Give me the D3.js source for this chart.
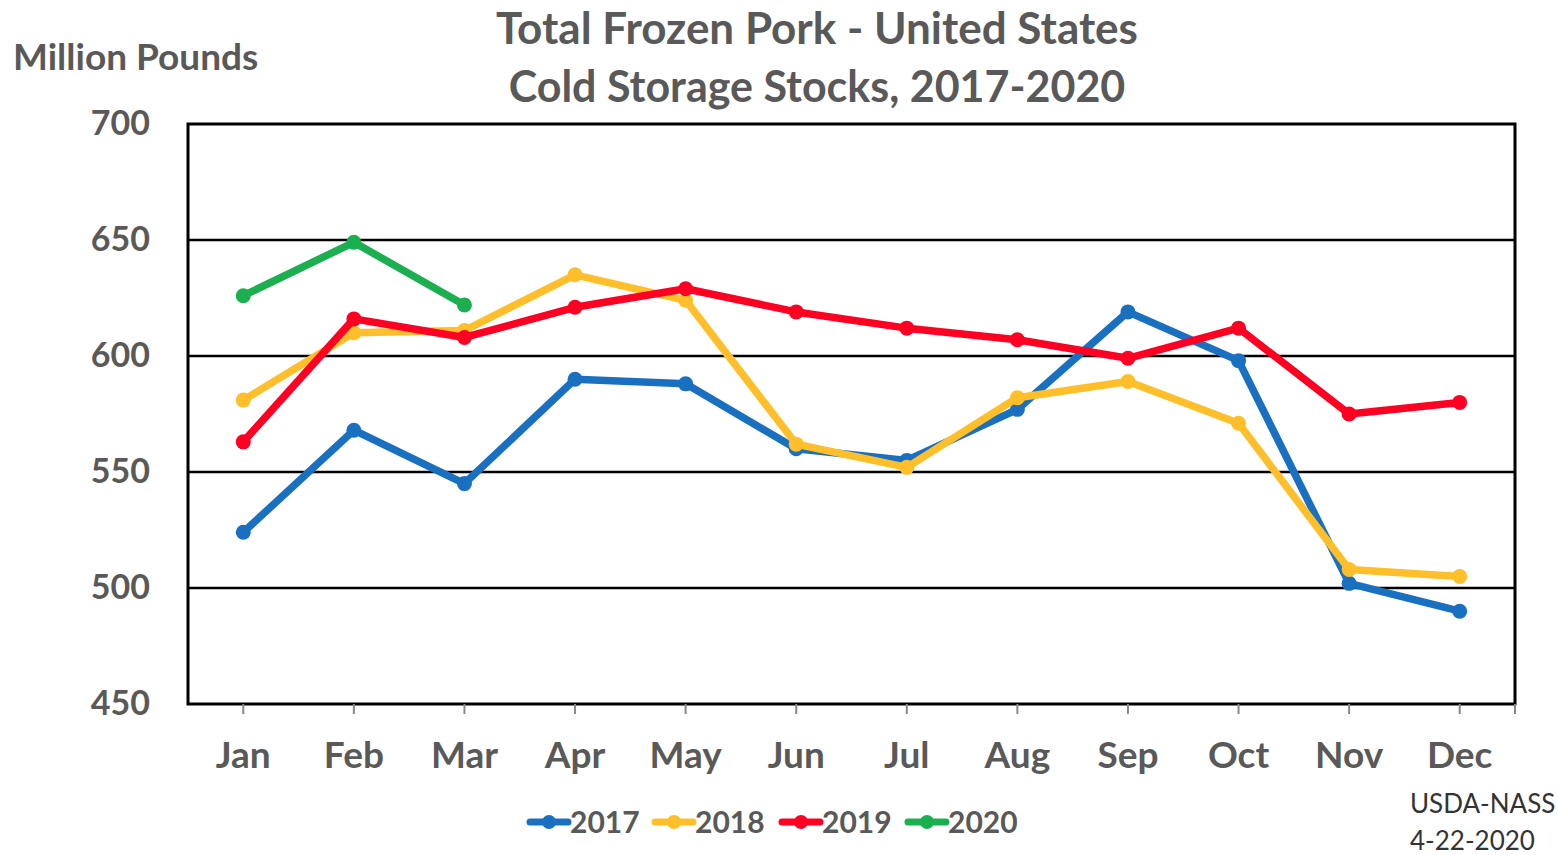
<!DOCTYPE html>
<html><head><meta charset="utf-8">
<script src="https://cdn.jsdelivr.net/npm/d3@7"></script>
<style>body{margin:0;background:#fff}svg{display:block}</style>
</head><body><svg id="c" width="1558" height="855"></svg>
<script>
const months = ["Jan","Feb","Mar","Apr","May","Jun","Jul","Aug","Sep","Oct","Nov","Dec"];
const yTicks = [450,500,550,600,650,700];
const s2017 = [524,568,545,590,588,560,555,577,619,598,502,490];
const s2018 = [581,610,611,635,624,562,552,582,589,571,508,505];
const s2019 = [563,616,608,621,629,619,612,607,599,612,575,580];
const s2020 = [626,649,622];
const seriesNames = ["2017","2018","2019","2020"];
const seriesColors = ["#1a70c0","#ffbf2b","#ff0022","#1caf50"];
const seriesData = [s2017,s2018,s2019,s2020];

const svg = d3.select("#c");
const font = "Lato, 'Open Sans', sans-serif";
const grey = "#595959";
const L=188,R=1515,T=124,B=704;
const x = d3.scaleBand().domain(months).range([L,R]).padding(0);
const xc = m => x(m)+x.bandwidth()/2;
const y = d3.scaleLinear().domain([450,700]).range([B,T]);

// gridlines
svg.append("g").selectAll("line").data(yTicks.filter(v=>v>450&&v<700)).join("line")
  .attr("x1",L).attr("x2",R).attr("y1",d=>y(d)).attr("y2",d=>y(d))
  .attr("stroke","#000").attr("stroke-width",2.5);
// frame
svg.append("rect").attr("x",L).attr("y",T).attr("width",R-L).attr("height",B-T)
  .attr("fill","none").attr("stroke","#000").attr("stroke-width",3);

// y axis labels
const ya = svg.append("g").attr("transform",`translate(${L},0)`)
  .call(d3.axisLeft(y).tickValues(yTicks).tickSize(0).tickPadding(38));
ya.select(".domain").remove();
ya.selectAll("text").attr("font-family",font).attr("font-weight","bold").attr("font-size",34).attr("fill",grey);

// x axis
const xa = svg.append("g").attr("transform",`translate(0,${B})`)
  .call(d3.axisBottom(x).tickSize(10).tickPadding(28));
xa.select(".domain").remove();
xa.selectAll("line").attr("stroke","#888").attr("stroke-width",2);
xa.selectAll("text").attr("font-family",font).attr("font-weight","bold").attr("font-size",37).attr("fill",grey);
svg.append("line").attr("x1",R).attr("x2",R).attr("y1",B).attr("y2",B+10).attr("stroke","#888").attr("stroke-width",2);

// series
const line = d3.line().x((d,i)=>xc(months[i])).y(d=>y(d));
seriesData.forEach((data,k)=>{
  const g = svg.append("g");
  g.append("path").datum(data).attr("d",line).attr("fill","none")
    .attr("stroke",seriesColors[k]).attr("stroke-width",7.5).attr("stroke-linejoin","round");
  g.selectAll("circle").data(data).join("circle")
    .attr("cx",(d,i)=>xc(months[i])).attr("cy",d=>y(d)).attr("r",7.5).attr("fill",seriesColors[k]);
});

// titles
const tl = svg.append("g").attr("font-family",font).attr("font-weight","bold").attr("fill",grey).attr("text-anchor","middle");
tl.append("text").attr("x",817).attr("y",44).attr("font-size",44).text("Total Frozen Pork - United States");
tl.append("text").attr("x",817).attr("y",102).attr("font-size",43).text("Cold Storage Stocks, 2017-2020");
svg.append("text").attr("x",13).attr("y",70).attr("font-family",font).attr("font-weight","bold")
  .attr("font-size",37).attr("fill",grey).text("Million Pounds");

// legend
const lg = svg.append("g");
const lx = [530,655,782,908];
seriesNames.forEach((n,k)=>{
  const g = lg.append("g").attr("transform",`translate(${lx[k]},822)`);
  g.append("line").attr("x1",0).attr("x2",38).attr("stroke",seriesColors[k]).attr("stroke-width",7).attr("stroke-linecap","round");
  g.append("circle").attr("cx",19).attr("r",7).attr("fill",seriesColors[k]);
  g.append("text").attr("x",40).attr("y",11).attr("font-family",font).attr("font-weight","bold")
    .attr("font-size",30).attr("fill",grey).text(n);
});

// source
const src = svg.append("g").attr("font-family",font).attr("font-size",26).attr("fill","#333");
src.append("text").attr("x",1410).attr("y",813).text("USDA-NASS");
src.append("text").attr("x",1410).attr("y",850).text("4-22-2020");
</script></body></html>
